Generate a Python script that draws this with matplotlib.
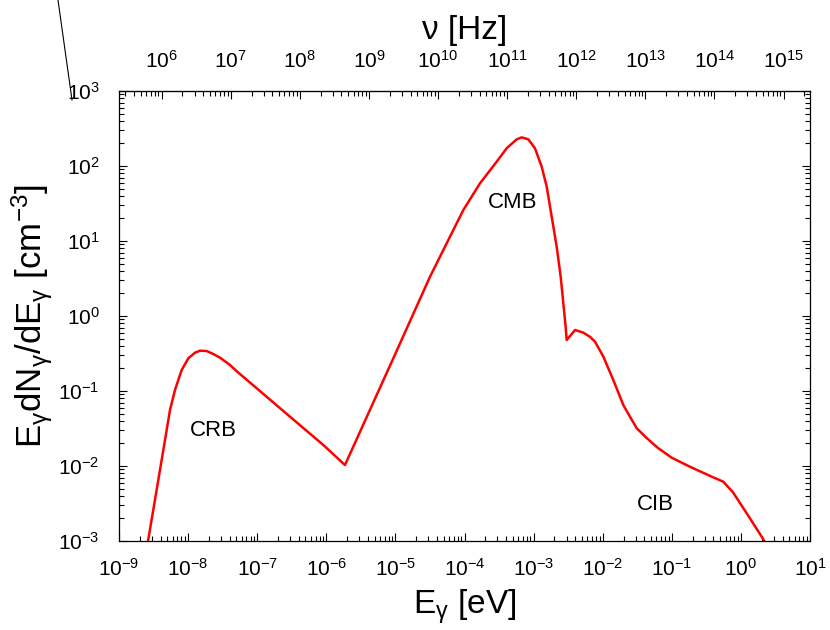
import numpy as np
import matplotlib
matplotlib.use("Agg")
import matplotlib.pyplot as plt
from matplotlib.lines import Line2D
from matplotlib.ticker import LogLocator, NullFormatter

plt.rcParams['font.family'] = ['Liberation Sans', 'DejaVu Sans']
plt.rcParams['mathtext.fontset'] = 'custom'
plt.rcParams['mathtext.rm'] = 'Liberation Sans'
plt.rcParams['mathtext.it'] = 'Liberation Sans'
plt.rcParams['mathtext.bf'] = 'Liberation Sans:bold'

# ---- data (log10 values) ----
# CRB part, CMB part, CIB part (one continuous curve)
log_energy = [-8.58, -8.504, -8.407, -8.334, -8.262, -8.19, -8.093, -7.997, -7.90, -7.828,
              -7.731, -7.635, -7.538, -7.394, -7.28, -7.007, -6.525, -6.043, -5.73,
              -5.03, -4.499, -4.258, -4.017, -3.776, -3.534, -3.39, -3.245, -3.172, -3.076,
              -2.98, -2.883, -2.81, -2.738, -2.666, -2.608, -2.570, -2.541, -2.521,
              -2.40, -2.28, -2.18, -2.111, -1.99, -1.847, -1.70, -1.605, -1.508, -1.36,
              -1.20, -1.00, -0.737, -0.404, -0.255, -0.115, 0.084, 0.32, 0.35]
log_density = [-3.00, -2.587, -2.053, -1.653, -1.253, -0.987, -0.72, -0.564, -0.489, -0.463,
               -0.467, -0.507, -0.556, -0.653, -0.75, -0.964, -1.343, -1.72, -1.987,
               -0.564, 0.524, 0.969, 1.413, 1.769, 2.058, 2.236, 2.355, 2.382, 2.355,
               2.236, 1.991, 1.724, 1.324, 0.924, 0.524, 0.169, -0.097, -0.32,
               -0.187, -0.222, -0.28, -0.343, -0.543, -0.853, -1.19, -1.343, -1.497, -1.63,
               -1.76, -1.89, -2.01, -2.15, -2.209, -2.35, -2.631, -2.97, -3.02]

labels = ["CRB", "CMB", "CIB"]
label_log_energy = [-7.64, -3.31, -1.24]
label_log_density = [-1.52, 1.51, -2.52]

h_planck = 4.135667e-15  # eV s

energy = 10.0 ** np.array(log_energy)
density = 10.0 ** np.array(log_density)

fig = plt.figure(figsize=(8.3, 6.3), dpi=100)
ax = fig.add_axes([119/830, 1 - 541/630, (810-119)/830, (541-91)/630])

ax.plot(energy, density, color='#ff0000', lw=1.8, solid_joinstyle='round')
ax.set_xscale('log')
ax.set_yscale('log')
ax.set_xlim(1e-9, 1e1)
ax.set_ylim(1e-3, 1e3)

for s, xl, yl in zip(labels, label_log_energy, label_log_density):
    ax.text(10**xl, 10**yl, s, fontsize=16, ha='center', va='center')

ax.xaxis.set_major_locator(LogLocator(base=10, numticks=20))
ax.xaxis.set_minor_locator(LogLocator(base=10, subs=np.arange(2, 10), numticks=20))
ax.xaxis.set_minor_formatter(NullFormatter())
ax.yaxis.set_major_locator(LogLocator(base=10, numticks=20))
ax.yaxis.set_minor_locator(LogLocator(base=10, subs=np.arange(2, 10), numticks=20))
ax.yaxis.set_minor_formatter(NullFormatter())

ax.tick_params(which='both', direction='in', top=False, right=True, width=0.8, labelsize=15)
ax.tick_params(which='major', length=6)
ax.tick_params(which='minor', length=3.5)
ax.tick_params(axis='x', which='major', pad=12)
ax.tick_params(axis='y', which='major', pad=14)
for sp in ax.spines.values():
    sp.set_linewidth(0.9)

sec = ax.secondary_xaxis('top', functions=(lambda e: e / h_planck, lambda nu: nu * h_planck))
sec.xaxis.set_major_locator(LogLocator(base=10, numticks=20))
sec.xaxis.set_minor_locator(LogLocator(base=10, subs=np.arange(2, 10), numticks=20))
sec.xaxis.set_minor_formatter(NullFormatter())
sec.tick_params(which='both', direction='in', width=0.8, labelsize=15)
sec.tick_params(which='major', length=6, pad=14)
sec.tick_params(which='minor', length=3.5)
sec.set_xlabel('ν [Hz]', fontsize=24, labelpad=8)

ax.set_xlabel(r'E$_\gamma$ [eV]', fontsize=24, labelpad=6)
ax.set_ylabel(r'E$_\gamma$dN$_\gamma$/dE$_\gamma$ [cm$^{-3}$]', fontsize=25, labelpad=2)

fig.add_artist(Line2D([58/830, 72/830], [1.0, 1 - 100/630], color='black', lw=0.8))

fig.savefig('out.png', dpi=100)
